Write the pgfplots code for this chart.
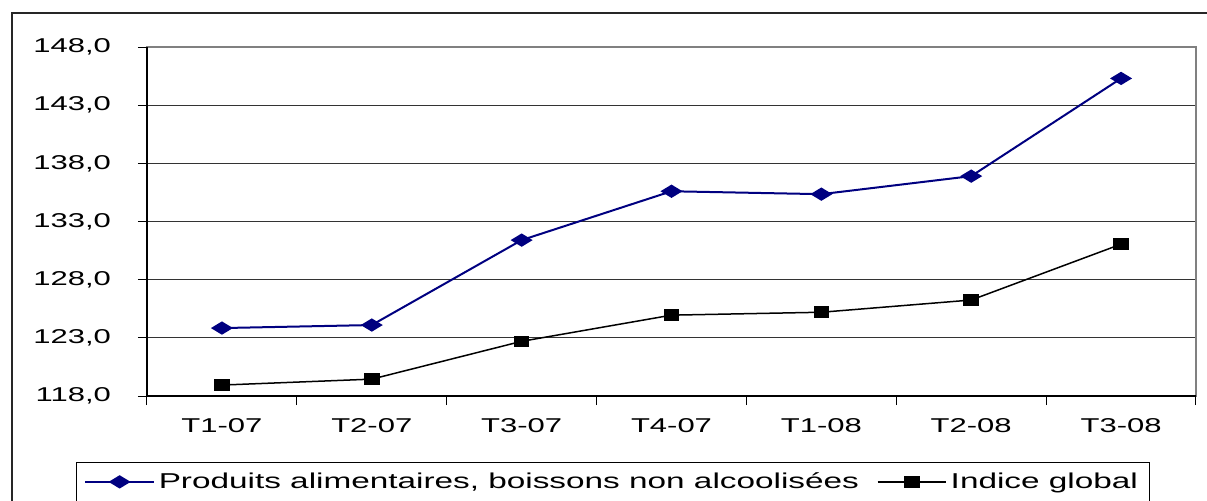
\documentclass[border=0pt]{standalone}
\usepackage{fontspec}
\setmainfont{Liberation Sans}[FakeStretch=1.55]
\usepackage{pgfplots}
\pgfplotsset{compat=1.18}
\definecolor{navyb}{RGB}{0,0,128}
\begin{document}
\begin{tikzpicture}
\path[use as bounding box] (0,0) rectangle (603.5pt,250pt);
\clip (0,0) rectangle (603.5pt,250pt);
\draw[line width=1pt, black!85] (6pt,-2pt) -- (6pt,243.5pt) -- (610pt,243.5pt);
\begin{axis}[
  at={(73.5pt,52pt)}, anchor=south west,
  scale only axis, width=524.5pt, height=174.5pt,
  xmin=-0.5, xmax=6.5, ymin=118, ymax=148,
  xtick={-0.5,0.5,...,6.5},
  x tick label as interval,
  xticklabels={T1-07,T2-07,T3-07,T4-07,T1-08,T2-08,T3-08},
  ytick={118,123,...,148},
  ymajorgrids, grid style={black!80, line width=0.5pt},
  axis line style={gray, line width=0.6pt},
  tick align=outside, xtick pos=bottom, ytick pos=left,
  major tick length=4.5pt,
  tick style={black, line width=0.5pt},
  ticklabel style={font=\fontsize{10}{12}\selectfont},
  /pgf/number format/fixed, /pgf/number format/fixed zerofill,
  /pgf/number format/precision=1, /pgf/number format/use comma,
  /pgf/number format/assume math mode=true,
  xticklabel style={yshift=-3pt},
  yticklabel style={xshift=-10pt},
  legend columns=2,
  legend style={at={(-0.0677,-0.189)}, anchor=north west, draw=black, line width=0.5pt,
    font=\fontsize{10.75}{12}\selectfont, inner xsep=4pt, inner ysep=3pt,
    /tikz/every even column/.append style={column sep=7pt}},
  legend image code/.code={\draw[mark repeat=2,mark phase=2,#1] plot coordinates {(0cm,0cm) (0.6cm,0cm) (1.2cm,0cm)};},
  after end axis/.code={
    \draw[black, line width=0.6pt] (rel axis cs:0,1) -- (rel axis cs:0,0) -- (rel axis cs:1,0);
  },
]
\addplot[navyb, line width=1pt, mark=diamond*, mark size=2.75pt, mark options={xscale=2.2, fill=navyb}]
  coordinates {(0,123.84) (1,124.1) (2,131.4) (3,135.6) (4,135.35) (5,136.9) (6,145.3)};
\addlegendentry{Produits alimentaires, boissons non alcoolisées}
\addplot[black, line width=0.75pt, mark=square*, mark size=2.5pt, mark options={xscale=1.4, fill=black}]
  coordinates {(0,118.94) (1,119.45) (2,122.7) (3,124.95) (4,125.2) (5,126.25) (6,131.05)};
\addlegendentry{Indice global\hspace{4pt}}
\end{axis}
\end{tikzpicture}
\end{document}
